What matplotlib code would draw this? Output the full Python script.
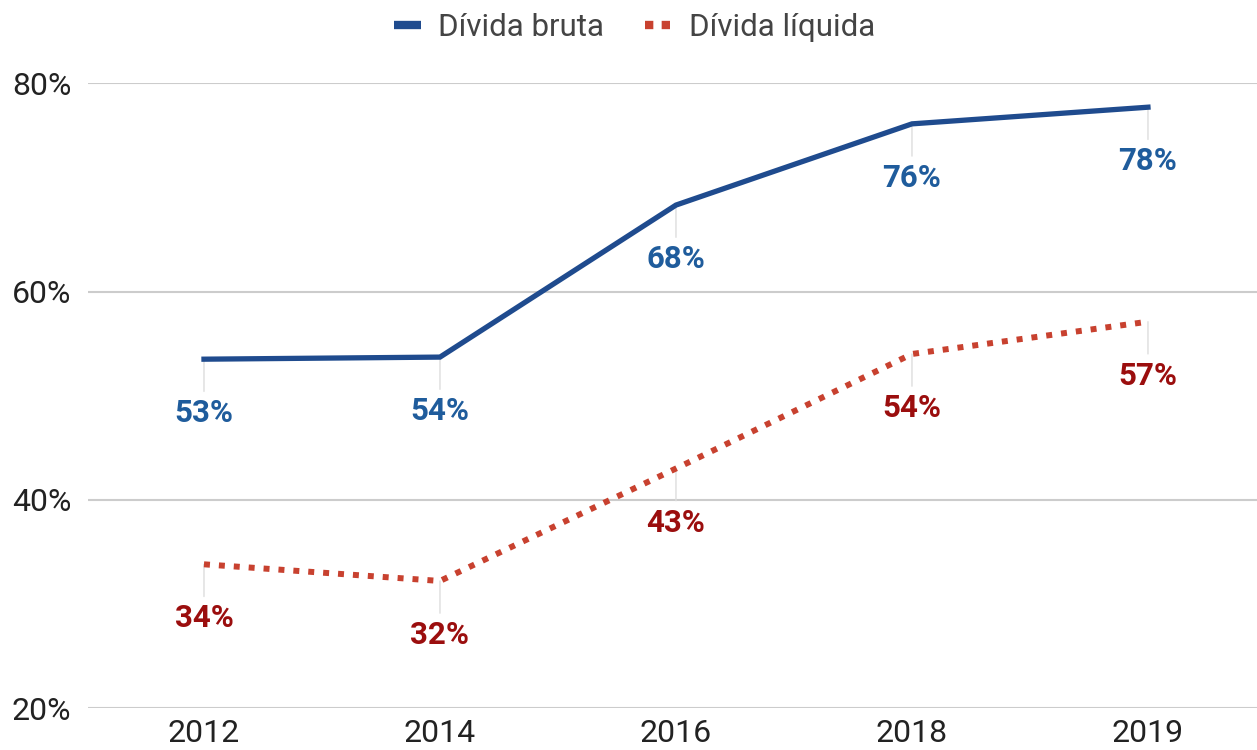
import matplotlib
matplotlib.use("Agg")
import matplotlib.pyplot as plt
from matplotlib.lines import Line2D

# data
years = ["2012", "2014", "2016", "2018", "2019"]
divida_bruta = [53.5, 53.7, 68.3, 76.1, 77.7]
divida_liquida = [33.8, 32.2, 43.0, 54.0, 57.1]
bruta_labels = ["53%", "54%", "68%", "76%", "78%"]
liquida_labels = ["34%", "32%", "43%", "54%", "57%"]
y_ticks = [20, 40, 60, 80]

plt.rcParams['font.family'] = ['Roboto', 'DejaVu Sans']

fig = plt.figure(figsize=(12.57, 7.5), dpi=100)
ax = fig.add_axes([0.070, 0.056, 0.930, 0.833])

x = list(range(len(years)))

blue_line = '#1f4b8e'
blue_text = '#1f5c9c'
red_line = '#c8412f'
red_text = '#9b0e0e'

ax.plot(x, divida_bruta, color=blue_line, lw=3.8, solid_joinstyle='miter', zorder=3, clip_on=False)
ax.plot(x, divida_liquida, color=red_line, lw=4.3, linestyle=(0, (1.0, 1.5)),
        dash_capstyle='butt', zorder=3, clip_on=False)

def label_points(vals, labels, color):
    for i, (v, t) in enumerate(zip(vals, labels)):
        ax.annotate(t, xy=(i, v), xytext=(0, -39), textcoords='offset points',
                    ha='center', va='center', fontsize=22.5, fontweight='bold', color=color,
                    arrowprops=dict(arrowstyle='-', color='#dddddd', lw=1.0,
                                    shrinkA=3, shrinkB=0),
                    zorder=2, annotation_clip=False)

label_points(divida_bruta, bruta_labels, blue_text)
label_points(divida_liquida, liquida_labels, red_text)

ax.set_xlim(-0.4915, 4.462)
ax.set_ylim(20, 80)
ax.set_yticks(y_ticks)
ax.set_yticklabels([f"{v}%" for v in y_ticks])
ax.set_xticks(x)
ax.set_xticklabels(years)
ax.grid(axis='y', color='#cccccc', lw=1.5, zorder=0)
ax.set_axisbelow(True)
for s in ax.spines.values():
    s.set_visible(False)
ax.tick_params(axis='both', length=0, labelsize=23, colors='#222222')
ax.tick_params(axis='y', pad=12)
ax.tick_params(axis='x', pad=8)

handles = [Line2D([], [], color=blue_line, lw=6, solid_capstyle='butt'),
           Line2D([], [], color=red_line, lw=6, linestyle=(0, (1.0, 1.0)), dash_capstyle='butt')]
fig.legend(handles, ["Dívida bruta", "Dívida líquida"], loc='upper center',
           bbox_to_anchor=(0.505, 1.02), ncol=2, frameon=False, fontsize=22.5,
           handlelength=0.85, columnspacing=1.3, handletextpad=0.56, labelcolor='#444444')

fig.savefig("out.png", dpi=100)
